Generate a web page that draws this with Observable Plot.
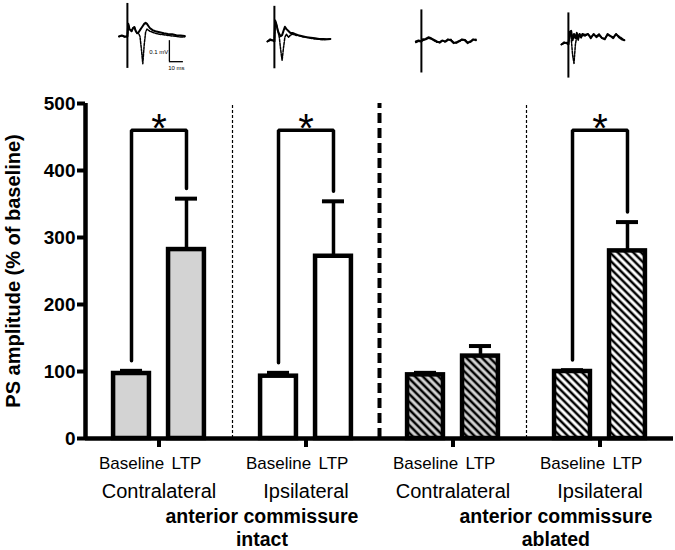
<!DOCTYPE html>
<html><head><meta charset="utf-8">
<script src="https://cdn.jsdelivr.net/npm/d3@7"></script>
<script src="https://cdn.jsdelivr.net/npm/@observablehq/plot@0.6"></script>
<style>
body{margin:0;background:#fff;font-family:"Liberation Sans",Arial,sans-serif}
#chart svg{display:block}
</style></head><body><div id="chart"></div>
<script>
// ---- Data ----
const groups = ["Contralateral", "Ipsilateral", "Contralateral", "Ipsilateral"];
const conditions = ["Baseline", "LTP"];
const surgeryLabels = ["anterior commissure\nintact", "anterior commissure\nablated"];
const baselineMean = [97, 93, 95, 100];
const baselineSem = [4, 5, 3, 2];
const ltpMean = [282, 272, 123, 280];
const ltpSem = [76, 82, 15, 43];
const significant = [true, true, false, true];
const yTicks = [0, 100, 200, 300, 400, 500];
const yLabel = "PS amplitude (% of baseline)";

// Example field-potential traces (ms, mV relative to pre-stimulus level)
const trace1Time   = [-6,-4,-2,0,0.6,1.5,3,4,5,6,7,8,9,10,11,12,13,14,15,16,18,20,23,26,29,32,35,38,41];
const trace1Solid  = [0,0.005,0,0,0.06,0.035,0.025,0.04,0.045,0.025,0.015,0.02,0.03,0.04,0.05,0.06,0.065,0.06,0.05,0.04,0.03,0.025,0.02,0.015,0.012,0.01,0.006,0.004,0.002];
const trace1Dashed = [0,0.003,-0.003,0,0.06,0.035,0.025,0.04,0.045,0.025,0.015,0.015,0,-0.06,-0.13,-0.04,0.02,0.035,0.03,0.025,0.02,0.015,0.01,0.008,0.005,0.002,0,-0.003,-0.002];
const trace2Time   = [-5,-3,-1,0,0.5,1.5,2.5,3.5,4.5,5.5,6.5,7.5,8.5,10,11.5,13,15,17,20,23,26,29,32,35,38,40];
const trace2Solid  = [0,0.01,0.005,0,0.1,0.08,0.05,0.035,0.025,0.03,0.05,0.07,0.06,0.05,0.04,0.04,0.035,0.03,0.025,0.02,0.018,0.015,0.012,0.012,0.01,0.012];
const trace2Dashed = [0,0.005,0.005,0,0.1,0.08,0.05,0.02,-0.04,-0.09,-0.03,0.02,0.035,0.02,0.03,0.035,0.03,0.028,0.022,0.02,0.015,0.012,0.01,0.008,0.01,0.012];
const trace3Time   = [-4,-2,0,1,3,5,7,9,11,13,15,17,19,21,23,25,27,29,31,33,35,37,39];
const trace3Solid  = [0,0.005,0,0.01,0.012,0.02,0.015,0.008,0,-0.006,0.004,0,0.01,0.006,-0.008,-0.004,0.002,0.01,0.006,-0.008,0,0.01,0.006];
const trace3Dashed = [-0.005,0,0,0.005,0.008,0.015,0.012,0.004,-0.004,-0.002,0.006,-0.003,0.006,0.01,-0.004,-0.008,0,0.006,0.01,-0.004,-0.004,0.008,0.01];
const trace4Time   = [-5,-3,-1,0,1,2,3,4,5,6,7,8,9,10,12,14,16,18,20,22,24,26,28,30,32,34,36,38,40];
const trace4Solid  = [0,0.01,0.005,0,0.06,0.065,0.02,0.05,0.03,0.055,0.03,0.05,0.035,0.05,0.045,0.05,0.03,0.05,0.035,0.045,0.03,0.025,0.05,0.04,0.03,0.05,0.035,0.025,0.02];
const trace4Dashed = [0,0.005,0.01,0,0.06,0.03,-0.05,-0.09,0,0.04,0.02,0.05,0.03,0.045,0.04,0.05,0.035,0.045,0.04,0.05,0.03,0.028,0.045,0.04,0.035,0.048,0.04,0.03,0.02];
const artifactTop    = [0.157, 0.167, 0.15, 0.15];
const artifactBottom = [-0.152, -0.13, -0.15, -0.16];
const scaleBarMv = 0.1, scaleBarMs = 10;

// ---- Layout constants ----
const W = 675;
const xDomain = [-0.5, 3.5];
const barOffset = {Baseline: -0.187, LTP: 0.187};
const halfW = 0.122, capHalf = 0.075;
const gap = 15, bracketLevel = 460;
const fills = ["#d3d3d3", "#ffffff", "url(#hatchGray)", "url(#hatchWhite)"];
const font = "Liberation Sans, Arial, sans-serif";

// ---- Traces plot ----
const traces = [
  {t: trace1Time, solid: trace1Solid, dashed: trace1Dashed},
  {t: trace2Time, solid: trace2Solid, dashed: trace2Dashed},
  {t: trace3Time, solid: trace3Solid, dashed: trace3Dashed},
  {t: trace4Time, solid: trace4Solid, dashed: trace4Dashed}
];
const traceDy = [-4, 1, 1, 4];
const msPerGroup = 105, artifactShift = -0.215;
const tx = (g, t) => g + artifactShift + t / msPerGroup;
const traceMarks = [];
traces.forEach((tr, g) => {
  const rows = tr.t.map((t, j) => ({g, t, solid: tr.solid[j], dashed: tr.dashed[j]}));
  traceMarks.push(
    Plot.line(rows, {x: d => tx(g, d.t), y: "dashed", dy: traceDy[g], stroke: "black", strokeWidth: 1.5, strokeDasharray: "2.5,1.2"}),
    Plot.line(rows, {x: d => tx(g, d.t), y: "solid", dy: traceDy[g], stroke: "black", strokeWidth: 2}),
    Plot.ruleX([g], {x: d => tx(d, 0), y1: artifactBottom[g], y2: artifactTop[g], dy: traceDy[g], stroke: "black", strokeWidth: 2})
  );
});
// scale bar (on first trace)
const sbT = 30, sbTop = -0.02;
traceMarks.push(
  Plot.ruleX([0], {x: d => tx(d, sbT), y1: sbTop, y2: sbTop - scaleBarMv, dy: traceDy[0], strokeWidth: 1.3}),
  Plot.ruleY([sbTop - scaleBarMv], {x1: tx(0, sbT), x2: tx(0, sbT + scaleBarMs), dy: traceDy[0], strokeWidth: 1.3}),
  Plot.text([`${scaleBarMv} mV`], {x: tx(0, sbT - 0.8), y: sbTop - scaleBarMv / 2, dy: traceDy[0] + 1, textAnchor: "end", fontSize: 6}),
  Plot.text([`${scaleBarMs} ms`], {x: tx(0, sbT + scaleBarMs / 2), y: sbTop - scaleBarMv, dy: traceDy[0] + 6, fontSize: 6})
);
const tracePlot = Plot.plot({
  width: W, height: 82,
  marginLeft: 85, marginRight: 2, marginTop: 0, marginBottom: 0,
  x: {domain: xDomain, axis: null},
  y: {domain: [-0.2, 0.19], axis: null},
  style: {fontFamily: font, background: "white"},
  marks: traceMarks
});

// ---- Main bar chart ----
const bars = groups.flatMap((grp, g) => [
  {g, cond: conditions[0], mean: baselineMean[g], sem: baselineSem[g]},
  {g, cond: conditions[1], mean: ltpMean[g], sem: ltpSem[g]}
]);
const xc = d => d.g + barOffset[d.cond];
const brackets = groups.flatMap((grp, g) => significant[g] ? [
  {g, x: g + barOffset.Baseline, y: baselineMean[g] + baselineSem[g] + gap},
  {g, x: g + barOffset.Baseline, y: bracketLevel},
  {g, x: g + barOffset.LTP, y: bracketLevel},
  {g, x: g + barOffset.LTP, y: ltpMean[g] + ltpSem[g] + gap}
] : []);
const stars = groups.map((grp, g) => ({g, sig: significant[g]})).filter(d => d.sig);

const mainPlot = Plot.plot({
  width: W, height: 468,
  marginLeft: 85, marginRight: 2, marginTop: 21, marginBottom: 112,
  x: {domain: xDomain},
  y: {domain: [0, 500]},
  color: {type: "identity"},
  style: {fontFamily: font, background: "white", color: "black"},
  marks: [
    // separators
    Plot.ruleX([0.5, 2.5], {y1: 0, y2: 500, stroke: "black", strokeWidth: 1.2, strokeDasharray: "3,2"}),
    Plot.ruleX([1.5], {y1: 0, y2: 500, stroke: "black", strokeWidth: 4, strokeDasharray: "10,5"}),
    // error bars
    Plot.ruleX(bars, {x: xc, y1: "mean", y2: d => d.mean + d.sem, stroke: "black", strokeWidth: 3.5}),
    Plot.ruleY(bars, {y: d => d.mean + d.sem, x1: d => xc(d) - capHalf, x2: d => xc(d) + capHalf, stroke: "black", strokeWidth: 4}),
    // bars
    Plot.rect(bars, {x1: d => xc(d) - halfW, x2: d => xc(d) + halfW, y1: 0, y2: "mean",
      fill: d => fills[d.g], stroke: "black", strokeWidth: 4.5}),
    // significance brackets
    Plot.line(brackets, {x: "x", y: "y", z: "g", stroke: "black", strokeWidth: 3.5, strokeLinejoin: "miter"}),
    Plot.text(stars, {x: "g", y: bracketLevel, text: () => "*", fontSize: 40, lineAnchor: "bottom", dy: 12}),
    // axes
    Plot.ruleX([xDomain[0]], {y1: 0, y2: 500, stroke: "black", strokeWidth: 4.5}),
    Plot.ruleY([0], {x1: xDomain[0], x2: xDomain[1], stroke: "black", strokeWidth: 4.5}),
    Plot.axisY(yTicks, {tickSize: 8, tickPadding: 2, strokeWidth: 4, fontSize: 19, fontWeight: "bold", label: null}),
    Plot.axisX([0, 1, 2, 3], {tickSize: 9, strokeWidth: 4, tickFormat: () => "", label: null}),
    Plot.text([yLabel], {x: xDomain[0], y: 250, dx: -72, rotate: -90, fontSize: 20, fontWeight: "bold"}),
    // category labels
    Plot.text(bars, {x: xc, y: 0, text: "cond", dy: 30, lineAnchor: "bottom", fontSize: 17}),
    Plot.text(groups.map((grp, g) => ({g, grp})), {x: "g", y: 0, text: "grp", dy: 59, lineAnchor: "bottom", fontSize: 20}),
    Plot.text(surgeryLabels.map((s, i) => ({s, x: 2 * i + 0.7})), {x: "x", y: 0, text: "s", dy: 107, lineAnchor: "bottom",
      fontSize: 19.5, fontWeight: "bold", lineHeight: 1.13})
  ]
});

// hatch patterns
d3.select(mainPlot).insert("defs", ":first-child").html(`
  <pattern id="hatchGray" patternUnits="userSpaceOnUse" width="5.5" height="5.5" patternTransform="rotate(45)">
    <rect width="5.5" height="5.5" fill="#d3d3d3"></rect>
    <line x1="0" y1="2.75" x2="5.5" y2="2.75" stroke="black" stroke-width="2.5"></line>
  </pattern>
  <pattern id="hatchWhite" patternUnits="userSpaceOnUse" width="5.5" height="5.5" patternTransform="rotate(45)">
    <rect width="5.5" height="5.5" fill="#ffffff"></rect>
    <line x1="0" y1="2.75" x2="5.5" y2="2.75" stroke="black" stroke-width="2.5"></line>
  </pattern>`);

const chart = document.getElementById("chart");
chart.appendChild(tracePlot);
chart.appendChild(mainPlot);
</script>
</body></html>
